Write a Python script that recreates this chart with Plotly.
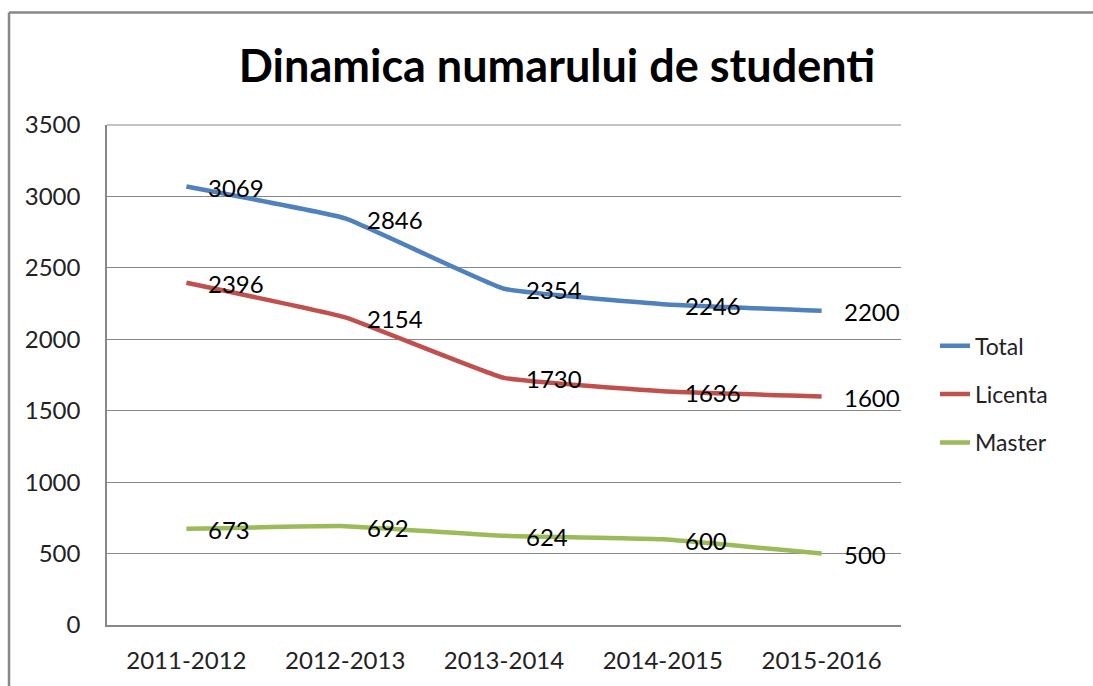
import plotly.graph_objects as go

years = ["2011-2012", "2012-2013", "2013-2014", "2014-2015", "2015-2016"]
total = [3069, 2846, 2354, 2246, 2200]
licenta = [2396, 2154, 1730, 1636, 1600]
master = [673, 692, 624, 600, 500]

series = [("Total", total, "#4F81BD"), ("Licenta", licenta, "#C0504D"), ("Master", master, "#9BBB59")]

FONT = "Lato"
fig = go.Figure()
for name, vals, col in series:
    fig.add_trace(go.Scatter(x=years, y=vals, name=name, mode="lines", legendgroup=name,
                             line=dict(color=col, width=4.5, shape="spline", smoothing=0.3)))
    for x, v in zip(years, vals):
        fig.add_annotation(x=x, y=v, text=str(v), showarrow=False, xanchor="left",
                           yanchor="middle", xshift=20, yshift=-1,
                           font=dict(family=FONT, size=24, color="#000"))

ml, mr, mt, mb = 107, 192, 125, 59
pw = 1093 - ml - mr
ph = 686 - mt - mb

fig.update_layout(
    width=1093, height=686,
    margin=dict(l=ml, r=mr, t=mt, b=mb),
    paper_bgcolor="white", plot_bgcolor="white",
    title=dict(text="<b>Dinamica numarului de studenti</b>", x=(557 - ml) / pw, xref="paper",
               xanchor="center", y=1 - 66 / 686, yanchor="middle",
               font=dict(family=FONT, size=45, color="#000")),
    font=dict(family=FONT, size=24, color="#222"),
    legend=dict(x=(935 - ml) / pw, y=(627 - 325) / ph, xanchor="left", yanchor="top",
                font=dict(family=FONT, size=23, color="#222"), tracegroupgap=15.5,
                itemwidth=30, bgcolor="rgba(0,0,0,0)"),
    showlegend=True,
    xaxis=dict(type="category", range=[-0.5, 4.5], showgrid=False, showline=True,
               linecolor="#888", linewidth=1.5, ticks="", ticklabelstandoff=13,
               tickfont=dict(family=FONT, size=24, color="#222")),
    yaxis=dict(range=[0, 3500], dtick=500, showgrid=True, gridcolor="#888", gridwidth=1,
               showline=True, linecolor="#888", linewidth=1.5, ticks="", zeroline=False,
               ticklabelstandoff=20, tickfont=dict(family=FONT, size=24, color="#222")),
    shapes=[
        dict(type="line", xref="paper", yref="paper", x0=(9 - ml) / pw, x1=(1100 - ml) / pw,
             y0=(627 - 12) / ph, y1=(627 - 12) / ph, line=dict(color="#888", width=2.5)),
        dict(type="line", xref="paper", yref="paper", x0=(9 - ml) / pw, x1=(9 - ml) / pw,
             y0=(627 - 12) / ph, y1=(627 - 700) / ph, line=dict(color="#888", width=2.5)),
        dict(type="line", xref="paper", yref="paper", x0=0, x1=1, y0=1, y1=1,
             line=dict(color="#888", width=1)),
    ],
)
fig.write_html("out.html", config={"displayModeBar": False},
               post_script="document.body.style.margin='0';document.body.style.overflow='hidden';")
